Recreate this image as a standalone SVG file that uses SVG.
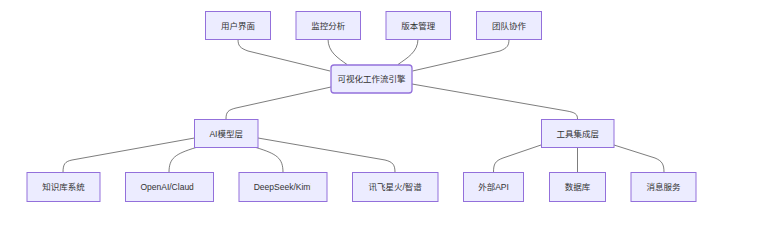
<svg xmlns="http://www.w3.org/2000/svg" width="761" height="233" viewBox="0 0 761 233">
<defs>
<style>
.n rect{fill:#ECECFF;stroke:#9370DB;stroke-width:1;}
.n text{font-family:"Liberation Sans","Noto Sans CJK SC",sans-serif;font-size:8.5px;fill:#333;text-anchor:middle;dominant-baseline:central;}
.e path{fill:none;stroke:#333;stroke-width:0.8;opacity:0.8;}
</style>
<clipPath id="c1"><rect x="125" y="172" width="68.8" height="30"/></clipPath>
<clipPath id="c2"><rect x="238" y="172" width="72.5" height="30"/></clipPath>
</defs>
<rect width="761" height="233" fill="#fff"/>
<g class="e" id="connectors">
<path d="M238,39 C238,46 240,48 248,51 L330,71"/>
<path d="M328,39 C328,52 338,58 347,64.5"/>
<path d="M418,39 C418,52 407,58 398,64.5"/>
<path d="M509,39 C509,46 507,48 500,51 L412.5,71"/>
<path d="M331,87 L236,108 C228,110 226,112 226,119"/>
<path d="M412,84 L567,111 C575,112.5 577.5,114 577.5,119"/>
<path d="M194.5,138 L72,160 C65,161.5 63,164 63,172.5"/>
<path d="M196,147.5 C175,154 169,158 169,172.5"/>
<path d="M256,147.5 C277,154 283,158 283,172.5"/>
<path d="M258,138 L385,160 C393,162 395,165 395,172.5"/>
<path d="M541,145 L503,158 C495,161 493.5,164 493.5,172.5"/>
<path d="M577.5,147.5 L577.5,172.5"/>
<path d="M614,145 L655,158 C662,161 664,164 664,172.5"/>
</g>
<g class="n" id="n-ui"><rect x="205.5" y="11.5" width="65" height="28"/><text x="238" y="25.5">用户界面</text></g>
<g class="n" id="n-mon"><rect x="296" y="11.5" width="64.5" height="28"/><text x="328.2" y="25.5">监控分析</text></g>
<g class="n" id="n-ver"><rect x="386" y="11.5" width="64.5" height="28"/><text x="418.2" y="25.5">版本管理</text></g>
<g class="n" id="n-team"><rect x="476.5" y="11.5" width="65" height="28"/><text x="509" y="25.5">团队协作</text></g>
<g class="n" id="n-engine"><rect x="331" y="65" width="81" height="28" rx="3" style="stroke-width:1.3"/><text x="371.5" y="79">可视化工作流引擎</text></g>
<g class="n" id="n-ai"><rect x="194.5" y="119.5" width="63.5" height="28"/><text x="226.2" y="133.5">AI模型层</text></g>
<g class="n" id="n-tools"><rect x="541.5" y="119.5" width="72.5" height="28"/><text x="577.7" y="133.5">工具集成层</text></g>
<g class="n" id="n-kb"><rect x="27" y="172.5" width="73" height="29"/><text x="63.5" y="187">知识库系统</text></g>
<g class="n" id="n-openai"><rect x="125.5" y="172.5" width="88" height="29"/><text x="169.5" y="187" clip-path="url(#c1)">OpenAI/Claude</text></g>
<g class="n" id="n-deepseek"><rect x="239" y="172.5" width="88" height="29"/><text x="283" y="187" clip-path="url(#c2)">DeepSeek/Kimi</text></g>
<g class="n" id="n-xf"><rect x="352.5" y="172.5" width="85.5" height="29"/><text x="395.2" y="187">讯飞星火/智谱</text></g>
<g class="n" id="n-api"><rect x="463.5" y="172.5" width="60" height="29"/><text x="493.5" y="187">外部API</text></g>
<g class="n" id="n-db"><rect x="549.5" y="172.5" width="56" height="29"/><text x="577.5" y="187">数据库</text></g>
<g class="n" id="n-msg"><rect x="631" y="172.5" width="65" height="29"/><text x="663.5" y="187">消息服务</text></g>
</svg>
